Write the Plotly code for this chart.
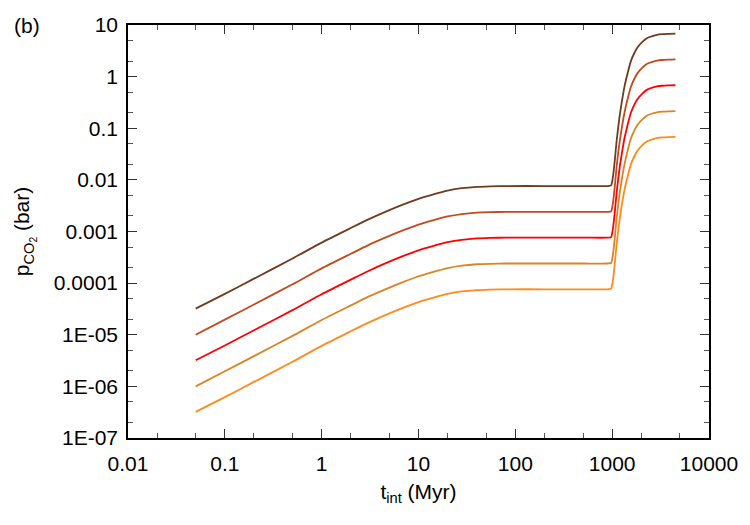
import plotly.graph_objects as go

# time grid (Myr)
t_int = [0.05, 0.1, 0.2, 0.5, 1, 2, 3, 5, 7, 10, 14, 20, 28, 40, 55, 80, 200, 500, 900, 975,
         1000, 1025, 1060, 1110, 1180, 1260, 1340, 1450, 1560, 1700, 1830,
         2050, 2300, 2600, 2900, 3300, 3800, 4500]

p_co2_1 = [3.2e-5, 6.2e-5, 1.22e-4, 3.0e-4, 6.1e-4, 1.17e-3, 1.7e-3, 2.6e-3, 3.36e-3, 4.3e-3, 5.2e-3,
           6.2e-3, 6.9e-3, 7.33e-3, 7.5e-3, 7.6e-3, 7.6e-3, 7.6e-3, 7.6e-3, 7.8e-3, 9.3e-3, 1.25e-2,
           2.2e-2, 5.5e-2, 0.145, 0.33, 0.64, 1.2, 2.0, 2.9, 3.7, 4.7, 5.6, 6.1, 6.45, 6.65, 6.75, 6.8]
p_co2_2 = [1.0e-5, 1.96e-5, 3.86e-5, 9.5e-5, 1.93e-4, 3.7e-4, 5.4e-4, 8.2e-4, 1.06e-3, 1.36e-3, 1.64e-3,
           1.96e-3, 2.18e-3, 2.32e-3, 2.37e-3, 2.4e-3, 2.4e-3, 2.4e-3, 2.4e-3, 2.45e-3, 2.9e-3, 3.9e-3,
           6.9e-3, 1.74e-2, 4.6e-2, 0.104, 0.2, 0.38, 0.63, 0.92, 1.17, 1.49, 1.77, 1.93, 2.04, 2.1,
           2.13, 2.15]
p_co2_3 = [3.2e-6, 6.2e-6, 1.22e-5, 3.0e-5, 6.1e-5, 1.17e-4, 1.7e-4, 2.6e-4, 3.36e-4, 4.3e-4, 5.2e-4,
           6.2e-4, 6.9e-4, 7.33e-4, 7.5e-4, 7.6e-4, 7.6e-4, 7.6e-4, 7.6e-4, 7.8e-4, 9.3e-4, 1.25e-3,
           2.2e-3, 5.5e-3, 1.45e-2, 3.3e-2, 6.4e-2, 0.12, 0.2, 0.29, 0.37, 0.47, 0.56, 0.61, 0.645,
           0.665, 0.675, 0.68]
p_co2_4 = [1.0e-6, 1.96e-6, 3.86e-6, 9.5e-6, 1.93e-5, 3.7e-5, 5.4e-5, 8.2e-5, 1.06e-4, 1.36e-4, 1.64e-4,
           1.96e-4, 2.18e-4, 2.32e-4, 2.37e-4, 2.4e-4, 2.4e-4, 2.4e-4, 2.4e-4, 2.45e-4, 2.9e-4, 3.9e-4,
           6.9e-4, 1.74e-3, 4.6e-3, 1.04e-2, 2.0e-2, 3.8e-2, 6.3e-2, 9.2e-2, 0.117, 0.149, 0.177,
           0.193, 0.204, 0.21, 0.213, 0.215]
p_co2_5 = [3.2e-7, 6.2e-7, 1.22e-6, 3.0e-6, 6.1e-6, 1.17e-5, 1.7e-5, 2.6e-5, 3.36e-5, 4.3e-5, 5.2e-5,
           6.2e-5, 6.9e-5, 7.33e-5, 7.5e-5, 7.6e-5, 7.6e-5, 7.6e-5, 7.6e-5, 7.8e-5, 9.3e-5, 1.25e-4,
           2.2e-4, 5.5e-4, 1.45e-3, 3.3e-3, 6.4e-3, 1.2e-2, 2.0e-2, 2.9e-2, 3.7e-2, 4.7e-2, 5.6e-2,
           6.1e-2, 6.45e-2, 6.65e-2, 6.75e-2, 6.8e-2]

series = [p_co2_1, p_co2_2, p_co2_3, p_co2_4, p_co2_5]
colors = ["#6e3c1e", "#c24a1e", "#ff0000", "#dc8424", "#ff8a1e"]

x_tickvals = [0.01, 0.1, 1, 10, 100, 1000, 10000]
x_ticktext = ["0.01", "0.1", "1", "10", "100", "1000", "10000"]
y_tickvals = [10, 1, 0.1, 0.01, 0.001, 0.0001, 1e-5, 1e-6, 1e-7]
y_ticktext = ["10", "1", "0.1", "0.01", "0.001", "0.0001", "1E-05", "1E-06", "1E-07"]

FONT = "Liberation Sans, Arial, sans-serif"

fig = go.Figure()
for ys, c in zip(series, colors):
    fig.add_trace(go.Scatter(x=t_int, y=ys, mode="lines",
                             line=dict(color=c, width=1.8, shape="spline", smoothing=0.6),
                             showlegend=False, hoverinfo="skip"))

axis_common = dict(
    type="log", showgrid=False, zeroline=False, showline=True, linecolor="black", linewidth=1.5,
    mirror="ticks", ticks="inside", ticklen=9, tickwidth=1, tickcolor="#333",
    tickfont=dict(family=FONT, size=21, color="black"),
    minor=dict(ticks="inside", ticklen=5, tickwidth=1, tickcolor="#555", dtick="D2"),
)

fig.update_xaxes(**axis_common, range=[-2, 4], tickmode="array", tickvals=x_tickvals, ticktext=x_ticktext,
                 ticklabelstandoff=6,
                 title=dict(text="t<sub>int</sub> (Myr)", font=dict(family=FONT, size=21, color="black"),
                            standoff=10))
fig.update_yaxes(**axis_common, range=[-7, 1], tickmode="array", tickvals=y_tickvals, ticktext=y_ticktext,
                 ticklabelstandoff=4,
                 title=dict(text="p<sub>CO<sub>2</sub></sub> (bar)", font=dict(family=FONT, size=21, color="black"),
                            standoff=18))

fig.add_annotation(text="(b)", xref="paper", yref="paper", x=-0.2, y=1.0, xanchor="left", yanchor="middle",
                   showarrow=False, font=dict(family=FONT, size=21, color="black"))

fig.update_layout(width=750, height=525, margin=dict(l=128, r=38, t=25, b=87),
                  plot_bgcolor="white", paper_bgcolor="white", font=dict(family=FONT))

fig.write_html("out.html")
